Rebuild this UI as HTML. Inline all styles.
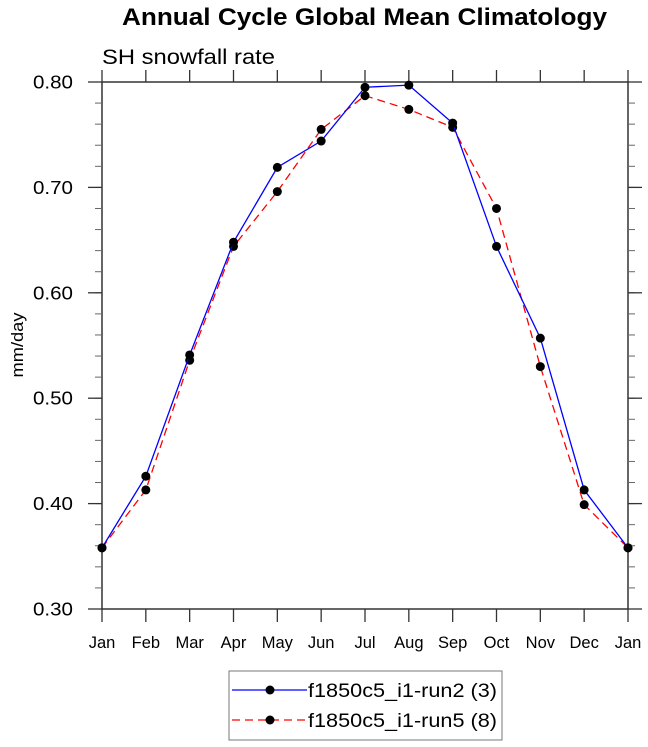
<!DOCTYPE html>
<html><head><meta charset="utf-8"><style>
body{margin:0;background:#fff;}
svg{display:block;font-family:"Liberation Sans",sans-serif;}
</style></head><body>
<svg id="chart" width="648" height="747">
<text x="122" y="25" font-size="24" font-weight="bold" textLength="485" lengthAdjust="spacingAndGlyphs">Annual Cycle Global Mean Climatology</text>
<text x="102" y="64" font-size="21" textLength="173" lengthAdjust="spacingAndGlyphs">SH snowfall rate</text>
<text transform="translate(23,345) rotate(-90)" text-anchor="middle" font-size="17" textLength="65" lengthAdjust="spacingAndGlyphs">mm/day</text>
<g id="axes"></g>
<g id="series"></g>
<rect x="229" y="671" width="273" height="69" fill="none" stroke="#777" stroke-width="1"/>
<g id="legend"></g>
</svg>
<script>
const months = ["Jan","Feb","Mar","Apr","May","Jun","Jul","Aug","Sep","Oct","Nov","Dec","Jan"];
const run2 = [0.358,0.426,0.541,0.648,0.719,0.744,0.795,0.797,0.761,0.644,0.557,0.413,0.358];
const run5 = [0.358,0.413,0.536,0.644,0.696,0.755,0.787,0.774,0.757,0.680,0.530,0.399,0.358];
const yTicks = [0.30,0.40,0.50,0.60,0.70,0.80];
const yTickLabels = ["0.30","0.40","0.50","0.60","0.70","0.80"];
const seriesNames = ["f1850c5_i1-run2 (3)","f1850c5_i1-run5 (8)"];

const NS="http://www.w3.org/2000/svg";
const L=102,R=628,T=82,B=609,yMin=0.3,yMax=0.8;
const xs=i=>L+(R-L)*i/(months.length-1);
const ys=v=>B-(v-yMin)/(yMax-yMin)*(B-T);
function mk(tag,attrs,parent){const e=document.createElementNS(NS,tag);for(const k in attrs)e.setAttribute(k,attrs[k]);parent.appendChild(e);return e;}
const ax=document.getElementById('axes');
let f=mk('rect',{x:L,y:T,width:R-L,height:B-T,fill:'none',stroke:'#333','stroke-width':1.5},ax);


months.forEach((m,i)=>{
  const x=xs(i);
  mk('line',{x1:x,x2:x,y1:B,y2:B+13,stroke:'#333','stroke-width':1.3},ax);
  mk('line',{x1:x,x2:x,y1:T,y2:T-12,stroke:'#333','stroke-width':1.3},ax);
  const t=mk('text',{x:x,y:648,'text-anchor':'middle','font-size':16.5},ax);
  t.textContent=m;
  
  
});
for(let v=yMin;v<=yMax+1e-9;v+=0.02){
  const y=ys(v);
  mk('line',{x1:L,x2:L-7,y1:y,y2:y,stroke:'#666'},ax);
  mk('line',{x1:R,x2:R+7,y1:y,y2:y,stroke:'#666'},ax);
}
yTicks.forEach((v,i)=>{
  const y=ys(v);
  mk('line',{x1:L,x2:L-14,y1:y,y2:y,stroke:'#333','stroke-width':1.3},ax);
  mk('line',{x1:R,x2:R+14,y1:y,y2:y,stroke:'#333','stroke-width':1.3},ax);
  const t=mk('text',{x:73,y:y+6.5,'text-anchor':'end','font-size':18,textLength:40,lengthAdjust:'spacingAndGlyphs'},ax);
  t.textContent=yTickLabels[i];
  
  
});
const sg=document.getElementById('series');
function drawSeries(vals,color,dash,name){
  const g=mk('g',{},sg);
  
  
  const p=mk('polyline',{points:vals.map((v,i)=>xs(i)+','+ys(v)).join(' '),fill:'none',stroke:color,'stroke-width':1.3,'stroke-dasharray':dash},g);
  
  
  vals.forEach((v,i)=>{
    const c=mk('circle',{cx:xs(i),cy:ys(v),r:4.5,fill:'#000'},g);
    
    
  });
}
drawSeries(run5,'#f00','8 5','series-run5');
drawSeries(run2,'#00f','none','series-run2');
const lg=document.getElementById('legend');
[[690,'#00f','none'],[720,'#f00','8 5']].forEach((d,i)=>{
  const g=mk('g',{},lg);
  
  
  mk('line',{x1:232,x2:307,y1:d[0],y2:d[0],stroke:d[1],'stroke-width':1.3,'stroke-dasharray':d[2]},g);
  mk('circle',{cx:270,cy:d[0],r:4.5,fill:'#000'},g);
  const t=mk('text',{x:308,y:d[0]+7,'font-size':19,textLength:189,lengthAdjust:'spacingAndGlyphs'},g);
  t.textContent=seriesNames[i];
});
</script>
</body></html>
